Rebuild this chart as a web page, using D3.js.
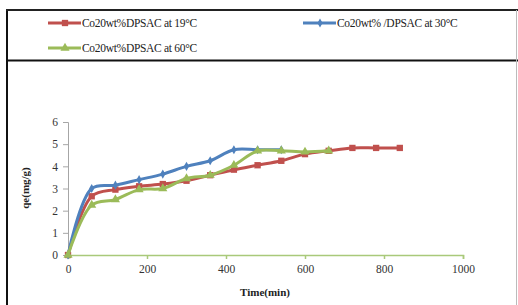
<!DOCTYPE html>
<html>
<head>
<meta charset="utf-8">
<script src="https://cdn.jsdelivr.net/npm/d3@7"></script>
<style>
  body { margin: 0; background: #fff; }
  text { font-family: "Liberation Serif", "Times New Roman", serif; }
</style>
</head>
<body>
<svg id="chart"></svg>
<script>
// data (time in min, qe in mg/g)
const red_t = [0, 60, 120, 180, 240, 300, 360, 420, 480, 540, 600, 660, 720, 780, 840];
const red_q = [0, 2.65, 2.95, 3.1, 3.2, 3.35, 3.6, 3.85, 4.05, 4.25, 4.55, 4.7, 4.83, 4.83, 4.83];
const blue_t = [0, 60, 120, 180, 240, 300, 360, 420, 480, 540];
const blue_q = [0, 3.0, 3.15, 3.4, 3.65, 4.0, 4.25, 4.75, 4.75, 4.75];
const green_t = [0, 60, 120, 180, 240, 300, 360, 420, 480, 540, 600, 660];
const green_q = [0, 2.25, 2.5, 2.95, 3.0, 3.45, 3.6, 4.05, 4.7, 4.7, 4.65, 4.7];
const xTicks = [0, 200, 400, 600, 800, 1000];
const yTicks = [0, 1, 2, 3, 4, 5, 6];
const seriesNames = ["Co20wt%DPSAC at 19°C", "Co20wt% /DPSAC at 30°C", "Co20wt%DPSAC at 60°C"];

const width = 518, height = 305;
const svg = d3.select("#chart").attr("width", width).attr("height", height);

// frame
svg.append("line").attr("x1", 7).attr("x2", 7).attr("y1", 10).attr("y2", height)
  .style("stroke", "#111").style("stroke-width", 2);
svg.append("line").attr("x1", 6).attr("x2", width).attr("y1", 10).attr("y2", 10)
  .style("stroke", "#222").style("stroke-width", 2);
svg.append("line").attr("x1", 6).attr("x2", width).attr("y1", 60.5).attr("y2", 60.5)
  .style("stroke", "#111").style("stroke-width", 2);
svg.append("line").attr("x1", 516.5).attr("x2", 516.5).attr("y1", 10).attr("y2", height)
  .style("stroke", "#bbb").style("stroke-width", 1);

const x = d3.scaleLinear().domain([0, 1000]).range([68, 463]);
const y = d3.scaleLinear().domain([0, 6]).range([255, 122]);

// y axis
const yAxis = svg.append("g").attr("transform", "translate(68,0)")
  .call(d3.axisLeft(y).tickValues(yTicks).tickFormat(d3.format("d")).tickSize(5).tickPadding(5));
yAxis.select(".domain").style("stroke", "#a6a6a6");
yAxis.selectAll(".tick line").style("stroke", "#a6a6a6");
yAxis.selectAll("text").style("font-size", "11.5px").style("fill", "#333")
  .style("font-family", "Liberation Serif");

// x axis
const xAxis = svg.append("g").attr("transform", "translate(0,255)")
  .call(d3.axisBottom(x).tickValues(xTicks).tickFormat(d3.format("d")).tickSize(4).tickPadding(6));
xAxis.select(".domain").style("stroke", "#a9c97a").style("stroke-width", 1.5);
xAxis.selectAll(".tick line").style("stroke", "#a9c97a").style("stroke-width", 1.5);
xAxis.selectAll("text").style("font-size", "11.5px").style("fill", "#333")
  .style("font-family", "Liberation Serif");

// axis titles
svg.append("text").attr("x", 265).attr("y", 296).attr("text-anchor", "middle")
  .style("font-size", "11px").style("font-weight", "bold").style("fill", "#222")
  .text("Time(min)");
svg.append("text").attr("transform", "translate(29,188) rotate(-90)").attr("text-anchor", "middle")
  .style("font-size", "11px").style("font-weight", "bold").style("fill", "#222")
  .text("qe(mg/g)");

const series = [
  { t: red_t, q: red_q, color: "#C0504D", marker: "square" },
  { t: blue_t, q: blue_q, color: "#4F81BD", marker: "diamond" },
  { t: green_t, q: green_q, color: "#9BBB59", marker: "triangle" },
];

const line = d3.line().x((d) => x(d[0])).y((d) => y(d[1])).curve(d3.curveCatmullRom.alpha(0.5));

function symbolFor(m) {
  if (m === "square") return d3.symbol().type(d3.symbolSquare).size(40);
  if (m === "diamond") return d3.symbol().type(d3.symbolDiamond).size(24);
  return d3.symbol().type(d3.symbolTriangle).size(36);
}

series.forEach((s) => {
  const pts = s.t.map((t, i) => [t, s.q[i]]);
  svg.append("path").datum(pts).attr("d", line)
    .style("fill", "none").style("stroke", s.color).style("stroke-width", 3)
    .style("stroke-linejoin", "round");
  svg.selectAll(null).data(pts).enter().append("path")
    .attr("transform", (d) => `translate(${x(d[0])},${y(d[1])})`)
    .attr("d", symbolFor(s.marker)).style("fill", s.color);
});

// legend
const legendPos = [[48, 23], [303, 23], [48, 48]];
series.forEach((s, i) => {
  const [lx, ly] = legendPos[i];
  svg.append("line").attr("x1", lx).attr("x2", lx + 33).attr("y1", ly).attr("y2", ly)
    .style("stroke", s.color).style("stroke-width", 3);
  svg.append("path").attr("transform", `translate(${lx + 17},${ly})`)
    .attr("d", symbolFor(s.marker)).style("fill", s.color);
  svg.append("text").attr("x", lx + 34).attr("y", ly + 4)
    .style("font-size", "11.5px").style("fill", "#222").style("letter-spacing", "-0.3px")
    .text(seriesNames[i]);
});
</script>
</body>
</html>
